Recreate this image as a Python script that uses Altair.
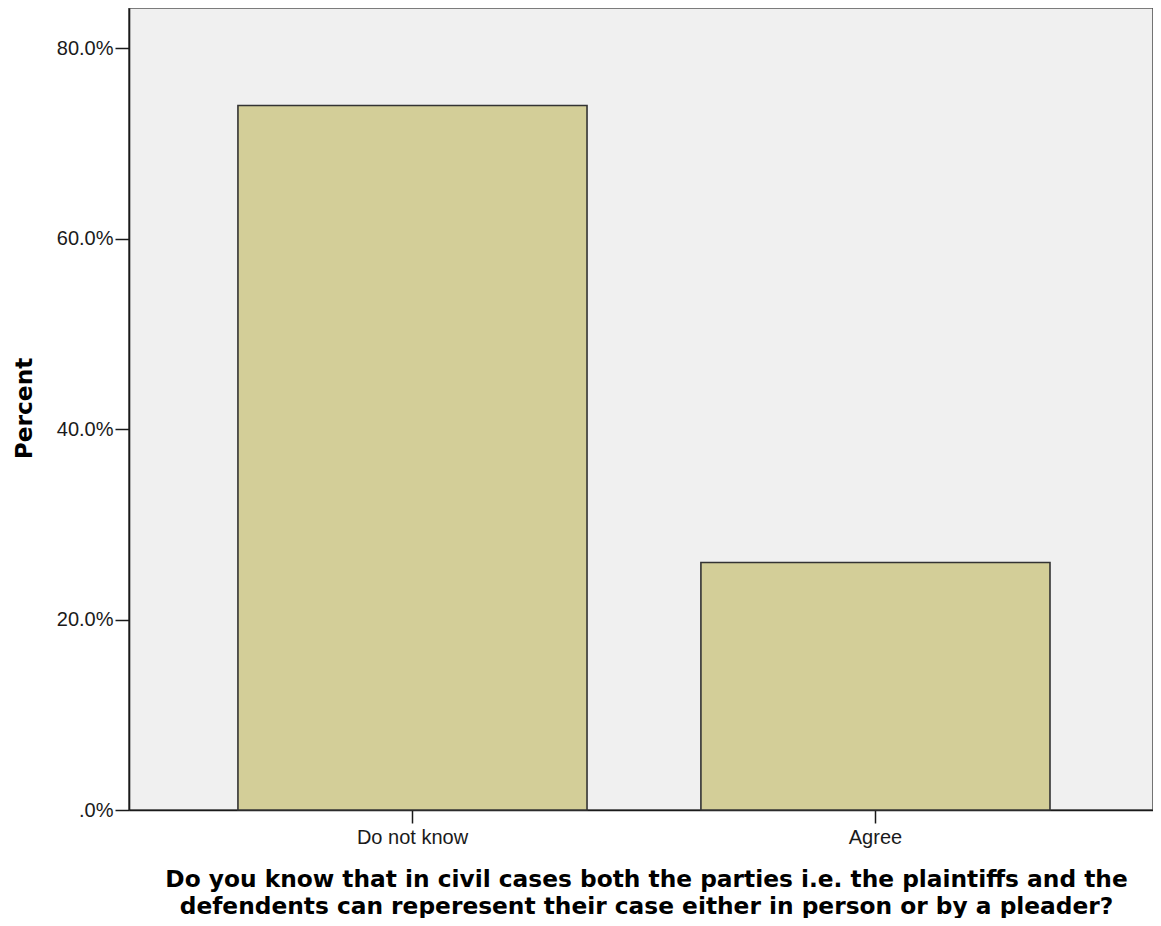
import altair as alt
import pandas as pd

categories = ["Do not know", "Agree"]
percents = [74.0, 26.0]
y_ticks = [0, 20, 40, 60, 80]

df = pd.DataFrame({"answer": categories, "percent": percents})

x_title = [
    "Do you know that in civil cases both the parties i.e. the plaintiffs and the",
    "defendents can reperesent their case either in person or by a pleader?",
]

chart = (
    alt.Chart(df)
    .mark_bar(fill="#d3ce98", stroke="#333333", strokeWidth=1.6)
    .encode(
        x=alt.X(
            "answer:N",
            sort=categories,
            title=x_title,
            scale=alt.Scale(paddingInner=0.246, paddingOuter=0.2289, align=0.514),
            axis=alt.Axis(
                labelAngle=0,
                labelFont="Liberation Sans",
                labelFontSize=20,
                labelColor="#1a1a1a",
                labelPadding=4,
                tickSize=13,
                tickColor="#1a1a1a",
                tickWidth=1.5,
                domainColor="#1a1a1a",
                domainWidth=1.6,
                titleFont="DejaVu Sans",
                titleFontSize=23.3,
                titleFontWeight="bold",
                titleColor="#000000",
                titleLineHeight=27,
                titleBaseline="alphabetic",
                titleAlign="center",
                titleAnchor="start",
                titleX=517,
                titleY=76,
            ),
        ),
        y=alt.Y(
            "percent:Q",
            title="Percent",
            scale=alt.Scale(domain=[0, 84.24], nice=False, zero=True),
            axis=alt.Axis(
                values=y_ticks,
                labelExpr="datum.value == 0 ? '.0%' : format(datum.value, '.1f') + '%'",
                labelFont="Liberation Sans",
                labelFontSize=20,
                labelColor="#1a1a1a",
                labelPadding=2,
                tickSize=14,
                tickColor="#1a1a1a",
                tickWidth=1.5,
                domainColor="#1a1a1a",
                domainWidth=1.6,
                grid=False,
                titleFont="DejaVu Sans",
                titleFontSize=23.3,
                titleFontWeight="bold",
                titleColor="#000000",
                titleAngle=270,
                titleBaseline="alphabetic",
                titleAlign="center",
                titleAnchor="start",
                titleX=-98,
                titleY=400,
            ),
        ),
    )
    .properties(
        width=1024,
        height=802,
        autosize=alt.AutoSizeParams(type="none"),
        padding={"left": 121, "top": 0, "right": 0, "bottom": 108},
    )
    .configure_view(fill="#f0f0f0", stroke="#555555", strokeWidth=1.6)
)

chart.save("out.html", embed_options={"renderer": "svg", "actions": False})
